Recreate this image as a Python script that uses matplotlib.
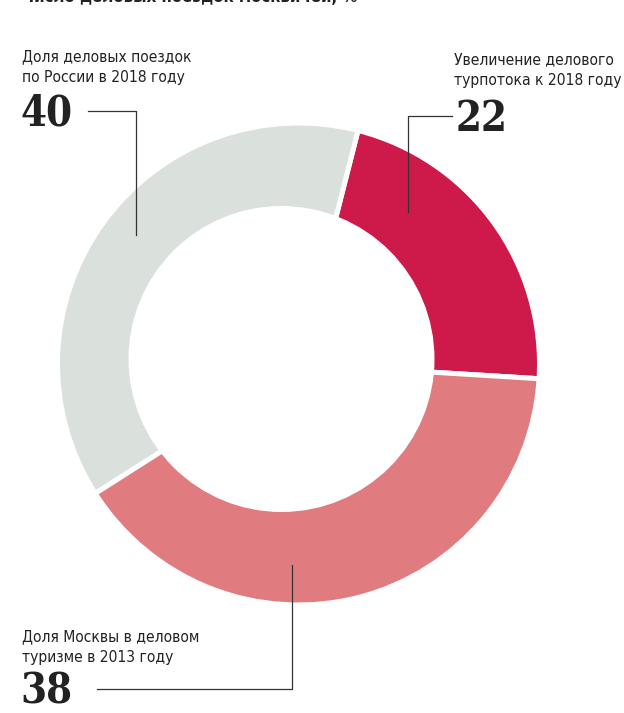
import matplotlib
matplotlib.use("Agg")
import matplotlib.pyplot as plt
from matplotlib.patches import Circle

# data
categories = [
    "Увеличение делового\nтурпотока к 2018 году",
    "Доля деловых поездок\nпо России в 2018 году",
    "Доля Москвы в деловом\nтуризме в 2013 году",
]
label_values = [22, 40, 38]
# arc sizes as they appear on the ring (red, grey, pink)
slice_shares = [22, 38, 40]
slice_colors = ["#CD1A4A", "#DAE0DC", "#E07C80"]
title = "Число деловых поездок москвичей, %"

W, H = 624, 713
SANS = ["DejaVu Sans", "Roboto"]
SERIF = ["DejaVu Serif", "Liberation Serif"]
LINE = "#333333"
TXT = "#222222"


def Y(y):
    # pixel row from the top -> data y
    return H - y


fig = plt.figure(figsize=(W / 100, H / 100), dpi=100)
ax = fig.add_axes([0, 0, 1, 1])

# ring
ax.pie(slice_shares, colors=slice_colors, startangle=-3.5, counterclock=True,
       center=(298.5, Y(364)), radius=241,
       wedgeprops=dict(edgecolor="white", linewidth=3.6))
ax.set_xlim(0, W)
ax.set_ylim(0, H)
ax.set_aspect("equal")
ax.axis("off")
# hole is a bit off centre in the original
ax.add_patch(Circle((281.5, Y(359)), 153, facecolor="white", edgecolor="none", zorder=5))

# title, cut by the top edge as in the source
ax.text(22, Y(2), title, family=SANS, fontstretch="condensed", fontsize=12,
        fontweight="bold", color=TXT, ha="left", va="baseline")

lab = dict(family=SANS, fontstretch="condensed", fontsize=11.2, color=TXT,
           va="baseline", linespacing=1.45)
num = dict(family=SERIF, fontstretch="condensed", fontsize=30, fontweight="bold",
           color=TXT, ha="left", va="baseline")

# upper left
ax.text(22, Y(82), categories[1], ha="left", **lab)
ax.text(20, Y(126), str(label_values[1]), **num)
ax.plot([88, 136, 136], [Y(111), Y(111), Y(235)], color=LINE, lw=0.9, zorder=6)

# upper right
ax.text(454, Y(85), categories[0], ha="left", **lab)
ax.text(456, Y(131), str(label_values[0]), **num)
ax.plot([452, 408, 408], [Y(116), Y(116), Y(212)], color=LINE, lw=0.9, zorder=6)

# bottom
ax.text(22, Y(662), categories[2], ha="left", **lab)
ax.text(20, Y(704), str(label_values[2]), **num)
ax.plot([97, 292, 292], [Y(689), Y(689), Y(565)], color=LINE, lw=0.9, zorder=6)

fig.savefig("out.png", dpi=100, facecolor="white")
